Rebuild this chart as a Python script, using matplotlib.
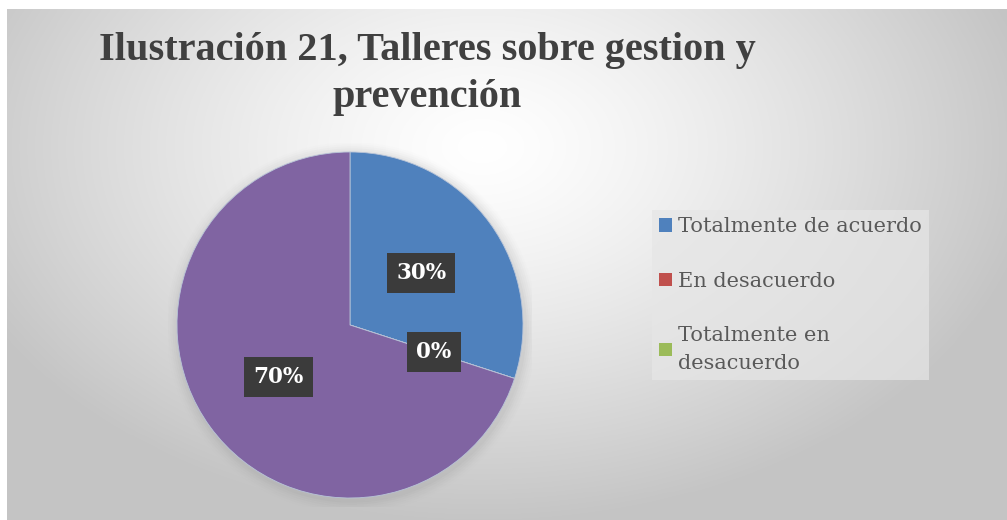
import numpy as np
import matplotlib.pyplot as plt
from matplotlib.patches import Patch, Rectangle

# datos
categorias = ["Totalmente de acuerdo", "En desacuerdo", "Totalmente en desacuerdo", "De acuerdo"]
valores = [30, 0, 0, 70]
colores = ["#4F81BD", "#C0504D", "#9BBB59", "#8064A2"]
etiquetas_leyenda = ["Totalmente de acuerdo", "En desacuerdo", "Totalmente en\ndesacuerdo"]
titulo = "Ilustración 21, Talleres sobre gestion y\nprevención"

W, H = 1007, 520
fig = plt.figure(figsize=(W / 100, H / 100), dpi=100)
fig.patch.set_facecolor("#c9c9c9")

# fondo con degradado radial
bg = fig.add_axes([7 / W, 0, 1 - 7 / W, 1 - 9 / H])
yy, xx = np.mgrid[0:520, 0:1010]
d = np.sqrt(((xx - 480) / 620.0) ** 2 + ((yy - 140) / 420.0) ** 2)
shade = np.clip(1.0 - 0.26 * d ** 1.3, 0.77, 1.0)
bg.imshow(np.dstack([shade, shade, shade]), aspect="auto", extent=[0, 1, 0, 1],
          origin="upper", interpolation="nearest")
bg.set_xlim(0, 1)
bg.set_ylim(0, 1)
bg.set_axis_off()

# márgenes blancos (izquierda y arriba)
fig.patches.append(Rectangle((0, 0), 7 / W, 1, transform=fig.transFigure,
                             facecolor="white", edgecolor="none"))
fig.patches.append(Rectangle((0, 1 - 9 / H), 1, 9 / H, transform=fig.transFigure,
                             facecolor="white", edgecolor="none"))

# pastel
cx, cy, r = 350, 325, 173
ax = fig.add_axes([(cx - r * 1.05) / W, (H - cy - r * 1.05) / H, 2.1 * r / W, 2.1 * r / H])
ax.set_facecolor("none")

# sombra suave del pastel
for k, a in enumerate(np.linspace(0.05, 0.01, 6)):
    ax.add_patch(plt.Circle((0.01, -0.015), 1.0 + 0.012 * (k + 1), color="#808080",
                            alpha=a, lw=0, zorder=0))

wedges, _, autotexts = ax.pie(valores, colors=colores, startangle=90, counterclock=False,
                              autopct="%1.0f%%", pctdistance=0.51, radius=1.0,
                              wedgeprops=dict(linewidth=0.6, edgecolor="#b8c4d8"),
                              textprops=dict(color="white", fontsize=15.5, fontweight="bold",
                                             family="DejaVu Serif"))
for t in autotexts:
    t.set_bbox(dict(boxstyle="square,pad=0.42", facecolor="#3b3b3b", edgecolor="none"))
ax.set_xlim(-1.05, 1.05)
ax.set_ylim(-1.05, 1.05)
ax.set_aspect("equal")
ax.set_axis_off()

# leyenda (solo tres entradas)
handles = [Patch(facecolor=c, edgecolor="none") for c in colores[:3]]
leg = fig.legend(handles, etiquetas_leyenda, loc="upper left",
                 bbox_to_anchor=(652 / W, 1 - 210 / H),
                 prop=dict(family="DejaVu Serif", size=15),
                 labelcolor="#595959", frameon=True, fancybox=False,
                 handlelength=0.6, handleheight=0.6, handletextpad=0.3,
                 labelspacing=1.7, borderpad=0.35, borderaxespad=0)
leg.get_frame().set_facecolor("#e6e6e6")
leg.get_frame().set_edgecolor("none")
leg.get_frame().set_alpha(0.7)
for t in leg.get_texts():
    t.set_linespacing(1.6)

# título
fig.text(427 / W, 1 - 74 / H, titulo, ha="center", va="center", fontsize=29,
         fontweight="bold", family="Liberation Serif", color="#404040", linespacing=1.38)

fig.savefig("out.png", dpi=100, facecolor=fig.get_facecolor())
